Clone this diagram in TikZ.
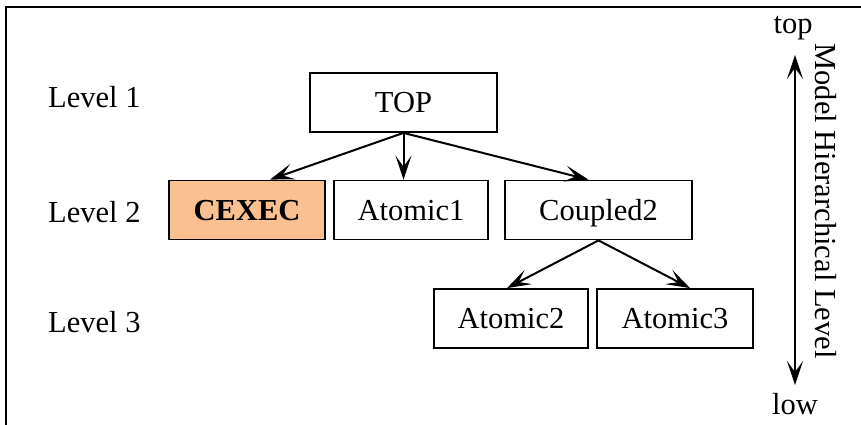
\documentclass[tikz,border=0pt]{standalone}
\usepackage{fontspec}
\setmainfont{Liberation Serif}
\usetikzlibrary{arrows.meta}
\definecolor{cexecfill}{HTML}{FAC08F}
\begin{document}
\begin{tikzpicture}[x=1pt,y=-1pt,
  font=\fontsize{30.5}{36}\selectfont,
  model/.style={draw, line width=1.8pt, rectangle, minimum height=59pt,
    text height=20pt, text depth=0pt, inner sep=0pt},
  >={Stealth[length=24pt,width=16pt,inset=11pt]},
  link/.style={line width=2pt, ->},
  axis/.style={line width=2pt, <->},
  levellabel/.style={anchor=base west, inner sep=0pt},
  plain/.style={anchor=base, inner sep=0pt}]
\useasboundingbox (0,0) rectangle (861,425);
% outer frame, running past the right and bottom edges
\begin{scope}
  \clip (0,0) rectangle (861,425);
  \draw[line width=1.8pt] (6,7) rectangle (900,460);
\end{scope}

% level captions
\node[levellabel] (lv1) at (48,107) {Level 1};
\node[levellabel] (lv2) at (48,222) {Level 2};
\node[levellabel] (lv3) at (48,332) {Level 3};

% model hierarchy
\node[model, minimum width=187pt] (top) at (403.5,102.5) {TOP};
\node[model, minimum width=156pt, fill=cexecfill,
  font=\fontsize{30.5}{36}\selectfont\bfseries] (cexec) at (247,210) {CEXEC};
\node[model, minimum width=154pt] (atomic1) at (411,210) {Atomic1};
\node[model, minimum width=187pt] (coupled2) at (598.5,210) {Coupled2};
\node[model, minimum width=154pt] (atomic2) at (511,318.5) {Atomic2};
\node[model, minimum width=156pt] (atomic3) at (675,318.5) {Atomic3};

\draw[link] (top.south) -- ([xshift=23pt]cexec.north);
\draw[link] (top.south) -- (top.south |- atomic1.north);
\draw[link] (top.south) -- ([xshift=-10pt]coupled2.north);
\draw[link] (coupled2.south) -- ([xshift=-4pt]atomic2.north);
\draw[link] (coupled2.south) -- ([xshift=15pt]atomic3.north);

% hierarchy axis
\coordinate (axtop) at (795,55);
\coordinate (axlow) at (795,385);
\draw[axis] (axtop) -- (axlow);
\node[plain] (toplabel) at (793,34) {top};
\node[plain] (lowlabel) at (795,414) {low};
\node[plain, rotate=-90] (axislabel) at (815,201) {Model Hierarchical Level};
\end{tikzpicture}
\end{document}
